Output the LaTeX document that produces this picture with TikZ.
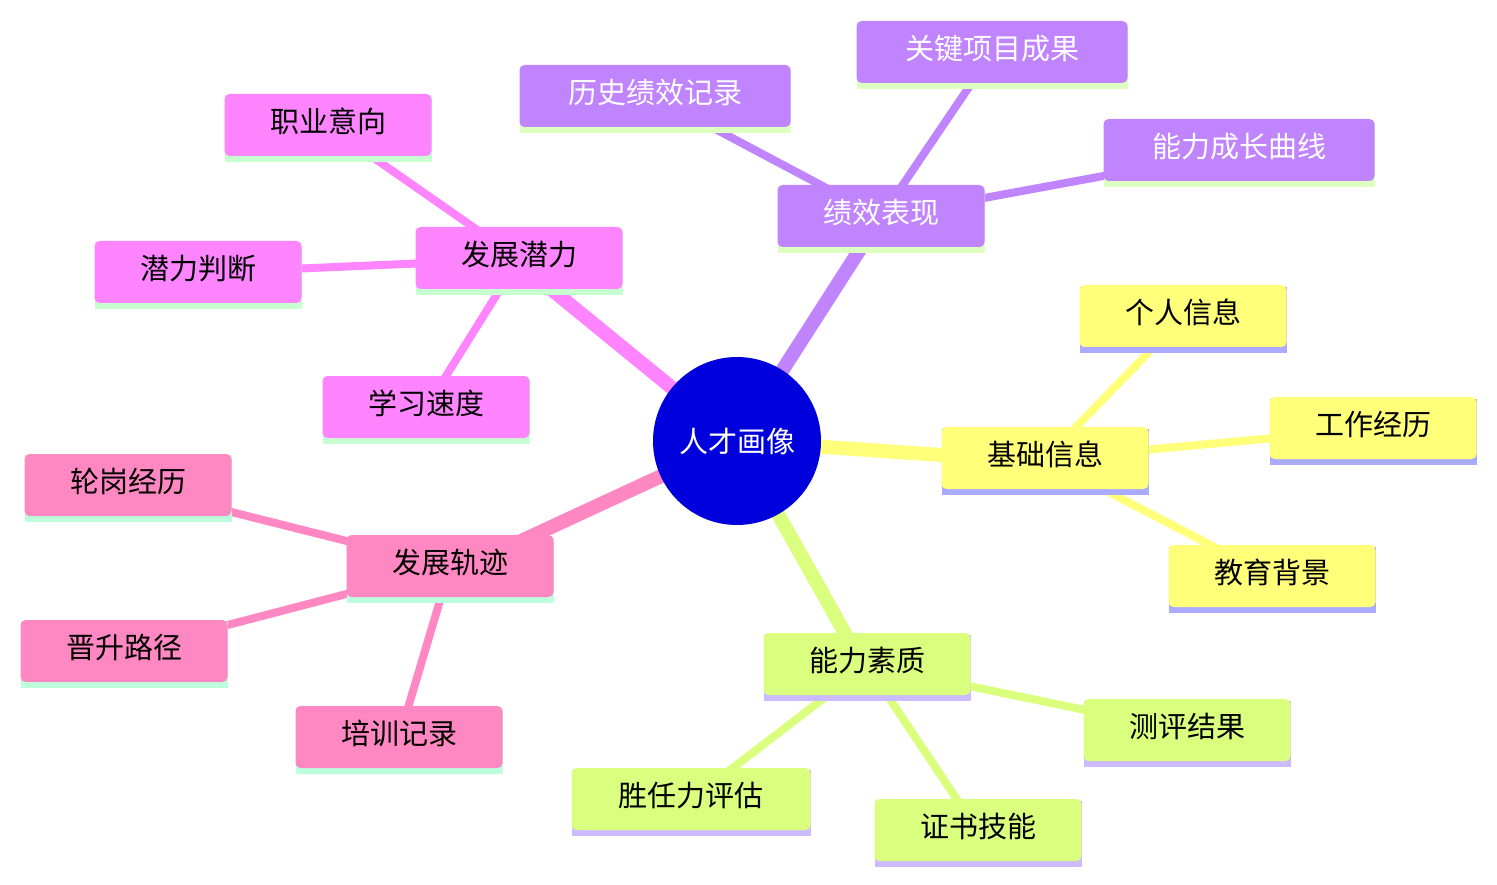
\documentclass[tikz,border=0pt]{standalone}
\usepackage{fontspec}
\setmainfont{Noto Sans CJK SC}
\definecolor{cP}{HTML}{C084FF}
\definecolor{cM}{HTML}{FF84FF}
\definecolor{cY}{HTML}{FFFF7A}
\definecolor{cG}{HTML}{DAFF7E}
\definecolor{cK}{HTML}{FF88C2}
\definecolor{sP}{HTML}{DDFFC0}
\definecolor{sM}{HTML}{C8FFD0}
\definecolor{sY}{HTML}{AAAAFF}
\definecolor{sG}{HTML}{CCBBFF}
\definecolor{sK}{HTML}{BBFFDD}
\newcommand{\bx}[7]{%
 \fill[#6] (#2-#4/2,#3-30) rectangle (#2+#4/2,#3+36);
 \node[fill=#5,rounded corners=5pt,minimum width=#4pt,minimum height=62pt,inner sep=0pt,font=\fontsize{29}{32}\selectfont,#7] (#1) at (#2,#3-1) {\strut #1};}
\begin{document}
\begin{tikzpicture}[x=1pt,y=-1pt]
\useasboundingbox (0,0) rectangle (1497,885);
\tikzset{mainedge/.style={line width=14pt},leafedge/.style={line width=8pt}}
\coordinate (r) at (737,441);
% edges
\draw[cP,mainedge] (r) -- (866,240);
\draw[cP,leafedge] (881,217) -- (655,97);
\draw[cP,leafedge] (881,217) -- (992,53);
\draw[cP,leafedge] (881,217) -- (1239,151);
\draw[cM,mainedge] (r) -- (540,280);
\draw[cM,leafedge] (519,259) -- (328,126);
\draw[cM,leafedge] (519,259) -- (198,273);
\draw[cM,leafedge] (519,259) -- (426,408);
\draw[cY,mainedge] (r) -- (1000,459);
\draw[cY,leafedge] (1045,459) -- (1183,317);
\draw[cY,leafedge] (1045,459) -- (1373,429);
\draw[cY,leafedge] (1045,459) -- (1272,577);
\draw[cG,mainedge] (r) -- (860,660);
\draw[cG,leafedge] (867,665) -- (1187,731);
\draw[cG,leafedge] (867,665) -- (978,831);
\draw[cG,leafedge] (867,665) -- (691,800);
\draw[cK,mainedge] (r) -- (480,560);
\draw[cK,leafedge] (450,567) -- (128,486);
\draw[cK,leafedge] (450,567) -- (124,652);
\draw[cK,leafedge] (450,567) -- (399,738);
% nodes
\bx{绩效表现}{881}{217}{207}{cP}{sP}{text=white}
\bx{历史绩效记录}{655}{97}{271}{cP}{sP}{text=white}
\bx{关键项目成果}{992}{53}{271}{cP}{sP}{text=white}
\bx{能力成长曲线}{1239}{151}{271}{cP}{sP}{text=white}
\bx{发展潜力}{519}{259}{207}{cM}{sM}{}
\bx{职业意向}{328}{126}{207}{cM}{sM}{}
\bx{潜力判断}{198}{273}{207}{cM}{sM}{}
\bx{学习速度}{426}{408}{207}{cM}{sM}{}
\bx{基础信息}{1045}{459}{207}{cY}{sY}{}
\bx{个人信息}{1183}{317}{207}{cY}{sY}{}
\bx{工作经历}{1373}{429}{207}{cY}{sY}{}
\bx{教育背景}{1272}{577}{207}{cY}{sY}{}
\bx{能力素质}{867}{665}{207}{cG}{sG}{}
\bx{测评结果}{1187}{731}{207}{cG}{sG}{}
\bx{证书技能}{978}{831}{207}{cG}{sG}{}
\bx{胜任力评估}{691}{800}{239}{cG}{sG}{}
\bx{发展轨迹}{450}{567}{207}{cK}{sK}{}
\bx{轮岗经历}{128}{486}{207}{cK}{sK}{}
\bx{晋升路径}{124}{652}{207}{cK}{sK}{}
\bx{培训记录}{399}{738}{207}{cK}{sK}{}
\node[circle,fill={rgb,255:red,0;green,0;blue,220},minimum size=168pt,inner sep=0pt,text=white,font=\fontsize{29}{32}\selectfont] (root) at (r) {人才画像};
\end{tikzpicture}
\end{document}
